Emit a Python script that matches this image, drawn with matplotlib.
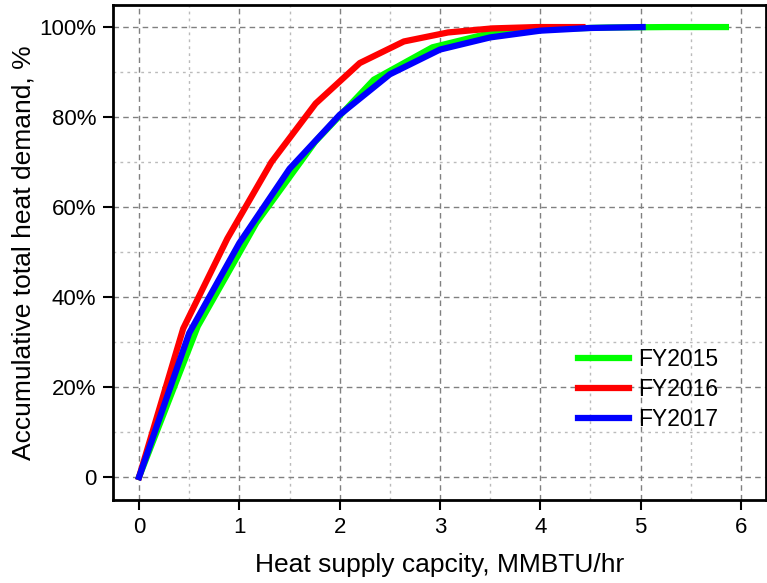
import matplotlib
matplotlib.use("Agg")
import matplotlib.pyplot as plt
from matplotlib.ticker import MultipleLocator, FuncFormatter

plt.rcParams["font.family"] = ["Liberation Sans", "DejaVu Sans"]

# heat supply capacity (MMBTU/hr) vs accumulated share of heat demand (%)
fy2015_x = [0, 0.585, 1.17, 1.755, 2.34, 2.925, 3.51, 4.095, 4.68, 5.265, 5.85]
fy2015_y = [0, 33.5, 56.5, 74.5, 88.3, 95.5, 98.7, 99.6, 99.9, 100, 100]

fy2016_x = [0, 0.44, 0.88, 1.32, 1.76, 2.2, 2.64, 3.08, 3.52, 3.96, 4.42]
fy2016_y = [0, 33, 53, 70, 83, 92, 96.8, 98.8, 99.7, 100, 100]

fy2017_x = [0, 0.5, 1.0, 1.5, 2.0, 2.5, 3.0, 3.5, 4.0, 4.5, 5.02]
fy2017_y = [0, 32, 52, 68.5, 80.5, 89.5, 95, 97.7, 99.2, 99.8, 100]

fig = plt.figure(figsize=(7.67, 5.83), dpi=100)
ax = fig.add_axes([0.1473, 0.1424, 0.8514, 0.849])

ax.plot(fy2015_x, fy2015_y, color="#00ff00", lw=4.5, label="FY2015")
ax.plot(fy2016_x, fy2016_y, color="#ff0000", lw=4.5, label="FY2016")
ax.plot(fy2017_x, fy2017_y, color="#0000ff", lw=4.5, label="FY2017")

ax.set_xlim(-0.26, 6.25)
ax.set_ylim(-5.1, 104.9)

ax.xaxis.set_major_locator(MultipleLocator(1))
ax.xaxis.set_minor_locator(MultipleLocator(0.5))
ax.yaxis.set_major_locator(MultipleLocator(20))
ax.yaxis.set_minor_locator(MultipleLocator(10))
ax.yaxis.set_major_formatter(FuncFormatter(lambda v, p: "0" if v == 0 else f"{v:.0f}%"))

ax.grid(True, which="major", color="#808080", linestyle=(0, (4, 3)), lw=1)
ax.grid(True, which="minor", color="#bbbbbb", linestyle=(0, (2, 3)), lw=1)
ax.set_axisbelow(True)

ax.tick_params(which="major", direction="out", length=7, width=1.5, labelsize=16, pad=5)
ax.tick_params(which="minor", length=0)
for s in ax.spines.values():
    s.set_linewidth(2)

ax.set_xlabel("Heat supply capcity, MMBTU/hr", fontsize=19, labelpad=11)
ax.set_ylabel("Accumulative total heat demand, %", fontsize=19, labelpad=3)

ax.legend(loc="lower right", bbox_to_anchor=(0.958, 0.098), frameon=False,
          fontsize=16.5, handlelength=2.2, handletextpad=0.4, labelspacing=0.3)

fig.savefig("out.png", dpi=100)
